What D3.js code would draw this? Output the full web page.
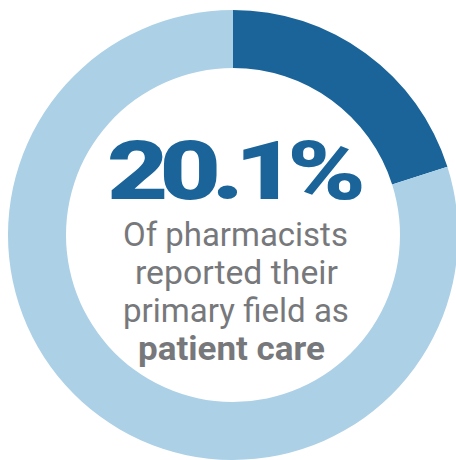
<!DOCTYPE html>
<html lang="en">
<head>
  <meta charset="UTF-8">
  <title>Patient care share</title>
  <script src="https://d3js.org/d3.v7.min.js"></script>
  <style>
    body { margin: 0; background: #fff; }
  </style>
</head>
<body>
  <svg id="chart"></svg>
  <script>
  // values
  var categories = ["Patient care", "Other fields"];
  var values = [20.1, 79.9];
  var colors = ["#1a6499", "#acd0e6"];
  var bigLabel = "20.1%";
  var lines = ["Of pharmacists", "reported their", "primary field as", "patient care"];

  var width = 456, height = 460;
  var cx = 233, cy = 235;
  var outerR = 225, innerR = 167;

  var svg = d3.select('#chart')
    .attr('width', width)
    .attr('height', height);

  var g = svg.append('g')
    .attr('transform', 'translate(' + cx + ',' + cy + ')');

  var pie = d3.pie().sort(null).value(function(d) { return d; });
  var arc = d3.arc().innerRadius(innerR).outerRadius(outerR);

  g.selectAll('path')
    .data(pie(values))
    .enter()
    .append('path')
    .attr('d', arc)
    .attr('fill', function(d, i) { return colors[i]; });

  // fits a text to a left edge and width by stretching it sideways
  function fit(sel, left, w, base) {
    var n = sel.node().getComputedTextLength();
    sel.attr('transform', 'translate(' + left + ',' + base + ') scale(' + (w / n) + ',1)');
  }

  var big = svg.append('text')
    .text(bigLabel)
    .attr('font-family', 'Roboto')
    .attr('font-weight', 900)
    .attr('font-size', 82)
    .attr('letter-spacing', -7)
    .attr('fill', colors[0]);
  fit(big, 107, 250, 199);

  var boxes = [[123, 225, 246], [135, 203, 284], [123, 226, 322], [138, 187, 360]];
  lines.forEach(function(t, i) {
    var s = svg.append('text')
      .text(t)
      .attr('font-family', 'Roboto')
      .attr('font-weight', i == 3 ? 700 : 400)
      .attr('font-size', 34)
      .attr('fill', '#77787b');
    fit(s, boxes[i][0], boxes[i][1], boxes[i][2]);
  });
  </script>
</body>
</html>
